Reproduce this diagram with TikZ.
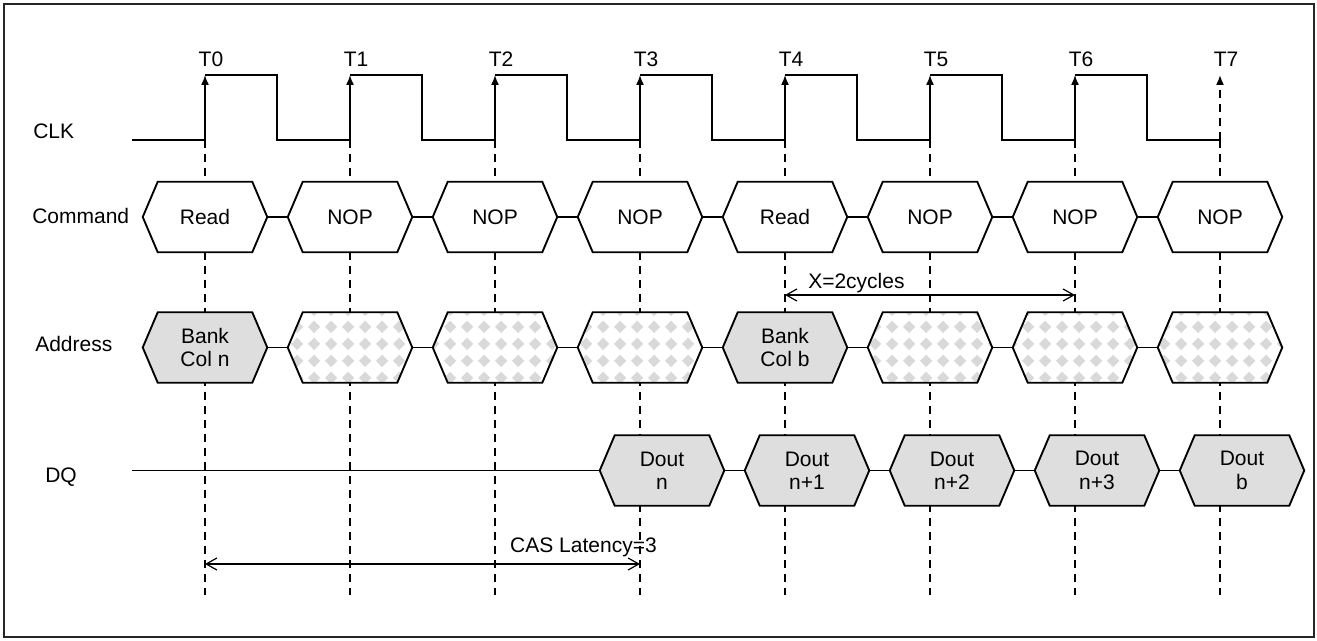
\documentclass[tikz,border=0pt]{standalone}
\usepackage{fontspec}
\setmainfont{Liberation Sans}
\usepackage{tikz}
\usetikzlibrary{positioning,calc,patterns,arrows.meta}
\pgfdeclarelayer{edgelayer}
\pgfdeclarelayer{nodelayer}
\pgfsetlayers{edgelayer,nodelayer,main}
\tikzset{>={Latex[length=7.5pt,width=6pt]}}

% light grey diamonds for the don't-care slots
\pgfdeclarepatternformonly{checkdiamonds}{\pgfpointorigin}{\pgfqpoint{12.75pt}{12.75pt}}{\pgfqpoint{12.75pt}{12.75pt}}{%
  \pgfpathmoveto{\pgfqpoint{6.375pt}{1.5pt}}%
  \pgfpathlineto{\pgfqpoint{11.25pt}{6.375pt}}%
  \pgfpathlineto{\pgfqpoint{6.375pt}{11.25pt}}%
  \pgfpathlineto{\pgfqpoint{1.5pt}{6.375pt}}%
  \pgfpathclose
  \pgfusepath{fill}}

\tikzset{
  lbl/.style={inner sep=0pt, font=\fontsize{15.75}{17.5}\selectfont},
  sig/.style={lbl, minimum width=93pt, minimum height=52.5pt, align=center},
  wave/.style={line width=1.6pt},
  riseline/.style={line width=1.1pt},
  tline/.style={line width=1.2pt, dash pattern=on 6pt off 4.5pt},
  hexline/.style={line width=1.4pt},
  hexwhite/.style={hexline, fill=white},
  busy/.style={hexline, fill=black!13},
  dontcare/.style={hexline, pattern=checkdiamonds, pattern color=black!15},
  spanarrow/.style={line width=0.9pt, {Straight Barb[length=8pt,width=9pt]}-{Straight Barb[length=8pt,width=9pt]}},
  outerframe/.style={line width=1.6pt, draw=black!85},
}

\newcommand{\hexpath}[1]{(#1.west) -- ($(#1.north west)+(15,0)$) -- ($(#1.north east)+(-15,0)$) -- (#1.east) -- ($(#1.south east)+(-15,0)$) -- ($(#1.south west)+(15,0)$) -- cycle}

\begin{document}
\begin{tikzpicture}[x=0.75pt, y=-0.75pt]

  \useasboundingbox (0,0) rectangle (1317,641);
  \draw[outerframe] (4,4) rectangle (1314,637);

  % Coordinates
  \foreach \k in {0,...,7} {
    \coordinate (lo\k) at (205+145*\k, 140);
    \coordinate (hi\k) at (205+145*\k, 75);
    \coordinate (bot\k) at (205+145*\k, 595);
  }
  \coordinate (clkstart) at (132,140);
  \coordinate (dqstart) at (132,470.5);

  % Row labels
  \node[lbl, anchor=west] (clklab) at (33,131) {CLK};
  \node[lbl, anchor=west] (cmdlab) at (32,216) {Command};
  \node[lbl, anchor=west] (adrlab) at (35,344) {Address};
  \node[lbl, anchor=west] (dqlab) at (45,477) {DQ};

  % Clock
  \draw[wave] (clkstart) -- (lo0);
  \foreach \k [count=\n] in {0,...,6} {
    \draw[wave] (hi\k) -- ++(72,0) -- ++(0,65) -- (lo\n);
    \draw[riseline, ->] (lo\k) -- (hi\k);
  }
  \draw[tline, ->] (lo7) -- (hi7);
  \foreach \k in {0,...,7}
    \node[lbl, above=6pt of hi\k, xshift=4.5pt] (tl\k) {T\k};

  % Nodes
  \foreach \k/\t in {0/Read,1/NOP,2/NOP,3/NOP,4/Read,5/NOP,6/NOP,7/NOP}
    \node[sig] (cmd\k) at (205+145*\k, 217) {\t};
  \node[sig] (adr0) at (205,347.5) {Bank\\Col n};
  \foreach \k in {1,2,3,5,6,7}
    \node[sig] (adr\k) at (205+145*\k, 347.5) {};
  \node[sig] (adr4) at (785,347.5) {Bank\\Col b};
  \foreach \k/\t in {3/n,4/n+1,5/n+2,6/n+3,7/b}
    \node[sig] (dq\k) at (227+145*\k, 470.5) {Dout\\\t};

  % Edges
  \foreach \k [count=\n] in {0,...,6} {
    \draw[hexline] (cmd\k.east) -- (cmd\n.west);
    \draw[hexline] (adr\k.east) -- (adr\n.west);
  }
  \foreach \k [count=\n from 4] in {3,...,6}
    \draw[hexline] (dq\k.east) -- (dq\n.west);
  \draw[hexline] (dqstart) -- (dq3.west);

  % Hexagons
  \begin{pgfonlayer}{nodelayer}
    \foreach \k in {0,...,7}
      \draw[hexwhite] \hexpath{cmd\k};
    \foreach \k in {1,2,3,5,6,7} {
      \fill[white] \hexpath{adr\k};
      \draw[dontcare] \hexpath{adr\k};
    }
    \foreach \k in {0,4}
      \draw[busy] \hexpath{adr\k};
    \foreach \k in {3,...,7}
      \draw[busy] \hexpath{dq\k};
  \end{pgfonlayer}

  % Timing marks
  \begin{pgfonlayer}{edgelayer}
    \foreach \k in {0,...,7}
      \draw[tline] (lo\k) -- (bot\k);
  \end{pgfonlayer}

  % Spans
  \coordinate (xa) at (785,295);
  \coordinate (xb) at (1075,295);
  \draw[spanarrow] (xa) -- (xb);
  \node[lbl, anchor=base west] (xlab) at (808,289) {X=2cycles};

  \coordinate (ca) at (205,564);
  \coordinate (cb) at (640,564);
  \draw[spanarrow] (ca) -- (cb);
  \node[lbl, anchor=base east] (calab) at (657,552) {CAS Latency=3};

\end{tikzpicture}
\end{document}
